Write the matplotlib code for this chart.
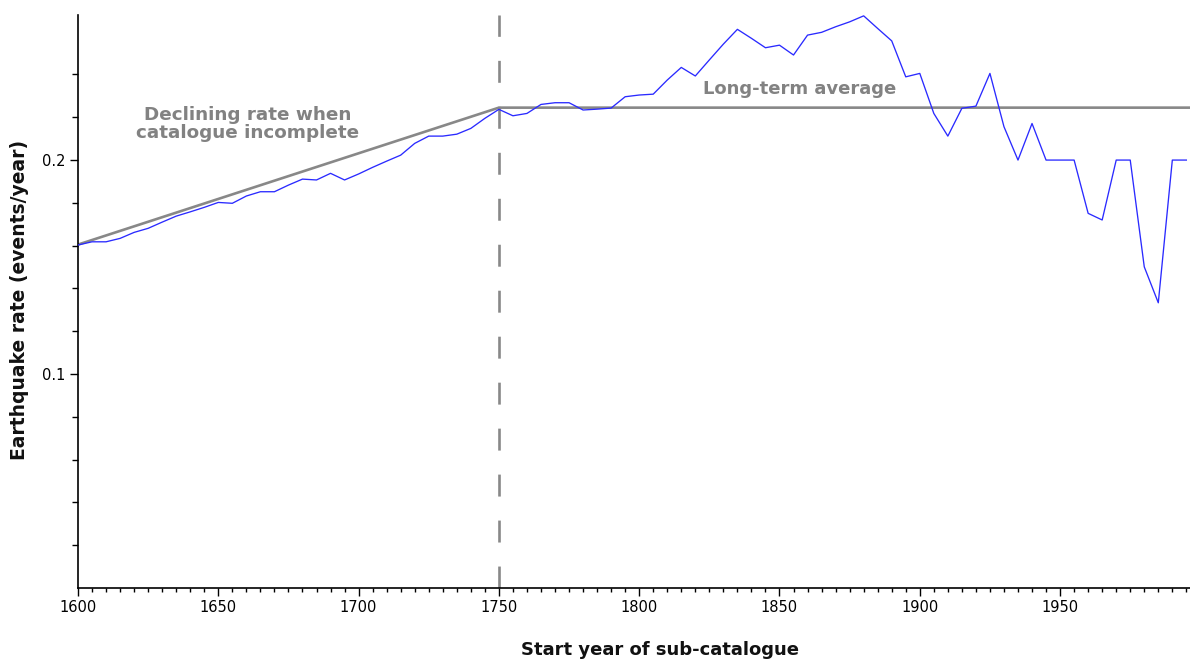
import matplotlib
matplotlib.use("Agg")
import matplotlib.pyplot as plt
from matplotlib.ticker import FixedLocator, NullFormatter, FuncFormatter

# ---------------- data ----------------
start_years = [1600, 1605, 1610, 1615, 1620, 1625, 1630, 1635, 1640, 1645,
               1650, 1655, 1660, 1665, 1670, 1675, 1680, 1685, 1690, 1695,
               1700, 1705, 1710, 1715, 1720, 1725, 1730, 1735, 1740, 1745,
               1750, 1755, 1760, 1765, 1770, 1775, 1780, 1785, 1790, 1795,
               1800, 1805, 1810, 1815, 1820, 1825, 1830, 1835, 1840, 1845,
               1850, 1855, 1860, 1865, 1870, 1875, 1880, 1885, 1890, 1895,
               1900, 1905, 1910, 1915, 1920, 1925, 1930, 1935, 1940, 1945,
               1950, 1955, 1960, 1965, 1970, 1975, 1980, 1985, 1990, 1995]

rates = [0.1603, 0.1618, 0.1618, 0.1634, 0.1662, 0.1681, 0.1710, 0.1738, 0.1758, 0.1779,
         0.1802, 0.1798, 0.1832, 0.1852, 0.1852, 0.1883, 0.1911, 0.1907, 0.1938, 0.1907,
         0.1935, 0.1966, 0.1995, 0.2023, 0.2078, 0.2112, 0.2112, 0.2121, 0.2148, 0.2195,
         0.2237, 0.2207, 0.2218, 0.2260, 0.2268, 0.2268, 0.2234, 0.2238, 0.2243, 0.2296,
         0.2304, 0.2308, 0.2374, 0.2433, 0.2393, 0.2468, 0.2542, 0.2611, 0.2569, 0.2525,
         0.2537, 0.2491, 0.2584, 0.2597, 0.2623, 0.2646, 0.2674, 0.2615, 0.2557, 0.2389,
         0.2405, 0.2218, 0.2112, 0.2242, 0.2252, 0.2405, 0.2156, 0.2000, 0.2171, 0.2000,
         0.2000, 0.2000, 0.1751, 0.1720, 0.2000, 0.2000, 0.1501, 0.1333, 0.2000, 0.2000]

# Trend lines: declining rate (incomplete catalogue) and long-term average
trend_years = [1600, 1750, 1996.3]
trend_rates = [0.1605, 0.2245, 0.2245]
completeness_year = 1750

x_major_ticks = [1600, 1650, 1700, 1750, 1800, 1850, 1900, 1950]
x_minor_ticks = [y for y in range(1600, 1996, 5) if y % 50 != 0]
y_major_ticks = [0.1, 0.2]
y_minor_ticks = [0.02, 0.04, 0.06, 0.08, 0.12, 0.14, 0.16, 0.18, 0.22, 0.24]

x_label = "Start year of sub-catalogue"
y_label = "Earthquake rate (events/year)"
note_incomplete = "Declining rate when\ncatalogue incomplete"
note_average = "Long-term average"

# ---------------- figure ----------------
plt.rcParams["lines.scale_dashes"] = False
W, H = 1190, 659
fig = plt.figure(figsize=(W / 100, H / 100), dpi=100)
ax = fig.add_axes([78 / W, 1 - 588 / H, (W - 78) / W, (588 - 15) / H])

GRAY = "#888888"
TEXT_GRAY = "#828282"
tick_font = ["Liberation Sans Narrow", "DejaVu Sans"]

ax.plot(trend_years, trend_rates, color=GRAY, lw=1.9, solid_capstyle="butt", zorder=2)
ax.plot(start_years, rates, color="#2a2aff", lw=0.95, zorder=3)
ax.plot([completeness_year, completeness_year], [0, 0.2678], color=GRAY, lw=1.9,
        dashes=(15.8, 17.3), zorder=1)

ax.text(1660.3, 0.2170, note_incomplete, color=TEXT_GRAY, fontsize=13.2, fontweight="bold",
        ha="center", va="center", linespacing=1.0)
ax.text(1857, 0.2330, note_average, color=TEXT_GRAY, fontsize=13, fontweight="bold",
        ha="center", va="center")

ax.set_xlim(1600, 1996.3)
ax.set_ylim(0, 0.2678)

for s in ["top", "right"]:
    ax.spines[s].set_visible(False)
for s in ["left", "bottom"]:
    ax.spines[s].set_linewidth(1.2)
    ax.spines[s].set_color("black")

ax.xaxis.set_major_locator(FixedLocator(x_major_ticks))
ax.xaxis.set_minor_locator(FixedLocator(x_minor_ticks))
ax.yaxis.set_major_locator(FixedLocator(y_major_ticks))
ax.yaxis.set_minor_locator(FixedLocator(y_minor_ticks))
ax.yaxis.set_major_formatter(FuncFormatter(lambda v, p: f"{v:g}"))
ax.xaxis.set_minor_formatter(NullFormatter())
ax.yaxis.set_minor_formatter(NullFormatter())

ax.tick_params(axis="both", which="major", direction="out", length=6, width=1, colors="black",
               labelsize=10.5, pad=3)
ax.tick_params(axis="both", which="minor", direction="out", length=3, width=1, colors="black")
ax.tick_params(axis="y", which="minor", length=4)
for lab in ax.get_xticklabels() + ax.get_yticklabels():
    lab.set_family(tick_font)

ax.set_xlabel(x_label, fontsize=13, fontweight="bold", color="#111111")
ax.xaxis.set_label_coords((660 - 78) / (W - 78), -(650 - 588) / (588 - 15))
ax.xaxis.label.set_va("center")
ax.set_ylabel(y_label, fontsize=13.5, fontweight="bold", color="#111111")
ax.yaxis.set_label_coords(-(78 - 20) / (W - 78), (588 - 300) / (588 - 15))
ax.yaxis.label.set_va("center")

fig.savefig("out.png", dpi=100, facecolor="white")
